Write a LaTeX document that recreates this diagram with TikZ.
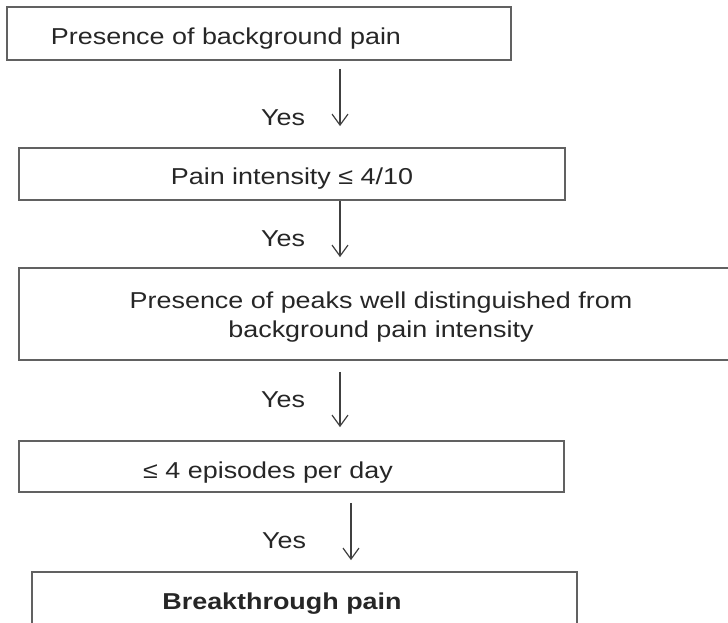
\documentclass[tikz,border=0pt]{standalone}
\usepackage{fontspec}
\setmainfont[FakeStretch=1.17]{Liberation Sans}
\usetikzlibrary{arrows.meta}

\tikzset{
  stepbox/.style={draw=black!62, line width=1.8pt, inner sep=0pt},
  flow/.style={draw=black!75, line width=1.2pt,
    -{Straight Barb[length=11pt,width=16pt,line width=1.2pt]}},
  txt/.style={text=black!85, font=\fontsize{23}{28}\selectfont, inner sep=0pt, anchor=base},
}

\begin{document}
\begin{tikzpicture}[x=1pt,y=-1pt]
    \useasboundingbox (0,0) rectangle (728,623);

    % boxes
    \node[stepbox, minimum width=504pt, minimum height=53pt] (b1) at (259,33.5) {};
    \node[stepbox, minimum width=546pt, minimum height=52pt] (b2) at (292,174) {};
    \node[stepbox, minimum width=721pt, minimum height=92pt] (b3) at (379.5,314) {};
    \node[stepbox, minimum width=545pt, minimum height=51pt] (b4) at (291.5,466.5) {};
    \node[stepbox, minimum width=545pt, minimum height=52pt] (b5) at (304.5,598) {};

    % texts
    \node[txt] (t1) at (226,45) {Presence of background pain};
    \node[txt] (t2) at (292,184) {Pain intensity ≤ 4/10};
    \node[txt] (t3a) at (381,308) {Presence of peaks well distinguished from};
    \node[txt] (t3b) at (381,337) {background pain intensity};
    \node[txt] (t4) at (268,478) {≤ 4 episodes per day};
    \node[txt, font=\fontsize{23}{28}\selectfont\bfseries] (t5) at (282,609) {Breakthrough pain};

    % yes labels
    \node[txt] (y1) at (283,126) {Yes};
    \node[txt] (y2) at (283,246) {Yes};
    \node[txt] (y3) at (283,407) {Yes};
    \node[txt] (y4) at (284,548) {Yes};

    % arrows
    \draw[flow, shorten <=8pt, shorten >=21pt] ([xshift=81pt]b1.south) -- ([xshift=48pt]b2.north);
    \draw[flow, shorten >=10pt] ([xshift=48pt]b2.south) -- ([xshift=-39.5pt]b3.north);
    \draw[flow, shorten <=11pt, shorten >=13pt] ([xshift=-39.5pt]b3.south) -- ([xshift=48.5pt]b4.north);
    \draw[flow, shorten <=10pt, shorten >=11pt] ([xshift=59.5pt]b4.south) -- ([xshift=46.5pt]b5.north);
\end{tikzpicture}
\end{document}
